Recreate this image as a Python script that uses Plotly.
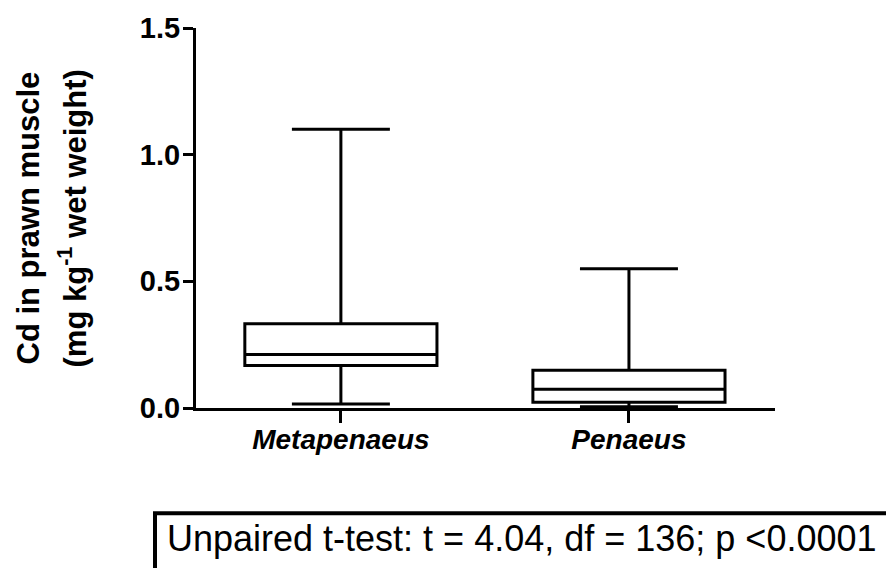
import plotly.graph_objects as go

# ---- data ----
categories = ["Metapenaeus", "Penaeus"]
lower_whisker = [0.016, 0.005]
q1_values = [0.168, 0.023]
median_values = [0.211, 0.074]
q3_values = [0.333, 0.149]
upper_whisker = [1.10, 0.55]
y_ticks = [0.0, 0.5, 1.0, 1.5]
y_title_line1 = "Cd in prawn muscle"
y_title_line2 = "(mg kg<sup>-1</sup> wet weight)"
stats_text = "Unpaired t-test: t = 4.04, df = 136; p <0.0001"

W, H = 886, 568
L, R, T, B = 196, 775, 25, 408  # plot area in pixels


def px(xp):
    return (xp - L) / (R - L)


def py(yp):
    return (B - yp) / (B - T)


FONT = "Liberation Sans, Arial, sans-serif"

fig = go.Figure()
fig.add_trace(go.Box(
    x=categories,
    q1=q1_values,
    median=median_values,
    q3=q3_values,
    lowerfence=lower_whisker,
    upperfence=upper_whisker,
    width=0.667,
    whiskerwidth=0.51,
    fillcolor="white",
    line=dict(color="black", width=3),
    boxpoints=False,
    showlegend=False,
    hoverinfo="skip",
))

fig.update_layout(
    width=W, height=H,
    margin=dict(l=L, r=W - R, t=T, b=H - B, pad=0),
    plot_bgcolor="white",
    paper_bgcolor="white",
    showlegend=False,
)

fig.update_xaxes(
    type="category",
    range=[-0.503, 1.507],
    showline=True, linecolor="black", linewidth=3,
    ticks="outside", ticklen=12, tickwidth=3, tickcolor="black",
    ticklabelstandoff=-8,
    tickfont=dict(family=FONT, size=28, color="black", weight="bold", style="italic"),
    showgrid=False, zeroline=False,
)
fig.update_yaxes(
    range=[0, 1.5],
    tickvals=y_ticks,
    ticktext=[f"{v:.1f}" for v in y_ticks],
    showline=True, linecolor="black", linewidth=3,
    ticks="outside", ticklen=10, tickwidth=3, tickcolor="black",
    ticklabelstandoff=-3,
    tickfont=dict(family=FONT, size=29, color="black", weight="bold"),
    showgrid=False, zeroline=False,
)

# y-axis title lines (rotated)
fig.add_annotation(
    text=y_title_line1, xref="paper", yref="paper",
    x=px(28), y=py(217), xanchor="center", yanchor="middle",
    textangle=-90, showarrow=False,
    font=dict(family=FONT, size=31, color="black", weight="bold"),
)
fig.add_annotation(
    text=y_title_line2, xref="paper", yref="paper",
    x=px(73), y=py(217), xanchor="center", yanchor="middle",
    textangle=-90, showarrow=False,
    font=dict(family=FONT, size=31, color="black", weight="bold"),
)

# statistics box
fig.add_shape(
    type="rect", xref="paper", yref="paper",
    x0=px(155), x1=px(895), y0=py(575), y1=py(514),
    line=dict(color="black", width=4), fillcolor="rgba(0,0,0,0)",
)
fig.add_annotation(
    text=stats_text, xref="paper", yref="paper",
    x=px(165), y=py(540), xanchor="left", yanchor="middle",
    showarrow=False,
    font=dict(family=FONT, size=36, color="black"),
)

fig.write_html("out.html")
